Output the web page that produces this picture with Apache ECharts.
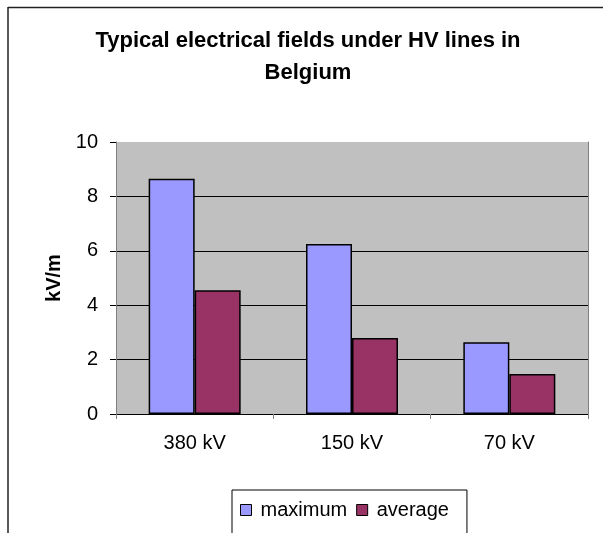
<!DOCTYPE html>
<html>
<head>
<meta charset="utf-8">
<script src="https://cdn.jsdelivr.net/npm/echarts@6/dist/echarts.min.js"></script>
<style>
  html, body { margin: 0; padding: 0; background: #fff; }
  #chart { width: 603px; height: 533px; }
</style>
</head>
<body>
<div id="chart"></div>
<script>
// data
var categories = ["380 kV", "150 kV", "70 kV"];
var maximum = [8.65, 6.25, 2.64];
var average = [4.55, 2.79, 1.47];

var myChart = echarts.init(document.getElementById("chart"));
var font = "Arial, 'Liberation Sans', sans-serif";

var option = {
  backgroundColor: "#fff",
  animation: false,
  title: {
    text: "Typical electrical fields under HV lines in\nBelgium",
    left: 303,
    top: 20,
    textAlign: "center",
    textStyle: {
      fontFamily: font,
      fontSize: 22,
      fontWeight: "bold",
      color: "#000",
      lineHeight: 32,
    },
  },
  // outer frame (only top and left are in view)
  graphic: [
    { type: "line", shape: { x1: 8, y1: 7.5, x2: 603, y2: 7.5 }, style: { stroke: "#222", lineWidth: 1.5 } },
    { type: "line", shape: { x1: 8, y1: 7, x2: 8, y2: 533 }, style: { stroke: "#222", lineWidth: 1.5 } },
  ],
  legend: {
    data: ["maximum", "average"],
    left: 232,
    top: 490,
    orient: "horizontal",
    icon: "rect",
    itemWidth: 11,
    itemHeight: 11,
    itemGap: 9,
    borderColor: "#000",
    borderWidth: 1,
    padding: [10, 18, 40, 8],
    textStyle: { fontFamily: font, fontSize: 20, color: "#000", padding: [0, 0, 0, 4] },
    itemStyle: { borderColor: "#000", borderWidth: 1 },
  },
  grid: {
    left: 116,
    right: 15,
    top: 142,
    bottom: 119,
    show: true,
    backgroundColor: "#C0C0C0",
    borderWidth: 0,
  },
  xAxis: {
    type: "category",
    data: categories,
    axisLine: { show: true, lineStyle: { color: "#000", width: 1 } },
    axisTick: { show: true, length: 5, lineStyle: { color: "#808080" } },
    axisLabel: { fontFamily: font, fontSize: 20, color: "#000", margin: 19 },
  },
  yAxis: [
    {
      type: "value",
      min: 0,
      max: 10,
      interval: 2,
      name: "kV/m",
      nameLocation: "middle",
      nameRotate: 90,
      nameGap: 50,
      nameTextStyle: { fontFamily: font, fontSize: 20, fontWeight: "bold", color: "#000" },
      axisLine: { show: true, lineStyle: { color: "#808080", width: 1 } },
      axisTick: { show: true, length: 6, lineStyle: { color: "#000" } },
      axisLabel: { fontFamily: font, fontSize: 20, color: "#000", margin: 18 },
      splitLine: { show: true, showMaxLine: false, lineStyle: { color: "#000", width: 1 } },
    },
    {
      type: "value",
      min: 0,
      max: 10,
      interval: 2,
      position: "right",
      axisLine: { show: true, lineStyle: { color: "#808080", width: 1 } },
      axisTick: { show: false },
      axisLabel: { show: false },
      splitLine: { show: false },
    },
  ],
  series: [
    {
      name: "maximum",
      type: "bar",
      data: maximum,
      barWidth: 46,
      barGap: "0%",
      itemStyle: { color: "#9999FF", borderColor: "#000", borderWidth: 1.5 },
    },
    {
      name: "average",
      type: "bar",
      data: average,
      barWidth: 46,
      barGap: "0%",
      itemStyle: { color: "#993366", borderColor: "#000", borderWidth: 1.5 },
    },
  ],
};

myChart.setOption(option);
</script>
</body>
</html>
